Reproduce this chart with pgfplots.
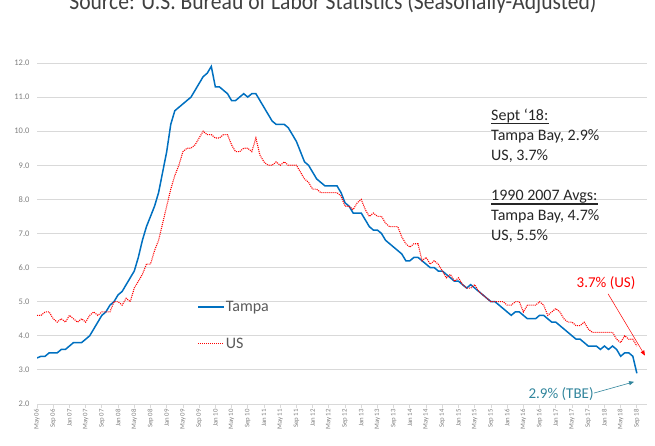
\documentclass[border=0pt]{standalone}
\usepackage{pgfplots}
\pgfplotsset{compat=1.18}
\usepackage{pgfplotstable}
\usepackage{fontspec}
\setmainfont{Carlito}
\usetikzlibrary{arrows.meta}
\definecolor{tblue}{HTML}{0070C0}
\definecolor{usred}{HTML}{FF0000}
\definecolor{tealc}{HTML}{31859C}
\definecolor{gridc}{HTML}{D9D9D9}
\definecolor{ticklab}{HTML}{7F7F7F}
\definecolor{legtxt}{HTML}{595959}
\definecolor{boxtxt}{HTML}{262626}
\definecolor{titlec}{HTML}{404040}

\pgfplotstableread{
m tampa us
0 3.35 4.6
1 3.4 4.6
2 3.4 4.7
3 3.5 4.7
4 3.5 4.5
5 3.5 4.4
6 3.6 4.5
7 3.6 4.4
8 3.7 4.6
9 3.8 4.5
10 3.8 4.4
11 3.8 4.5
12 3.9 4.4
13 4.0 4.6
14 4.2 4.7
15 4.4 4.6
16 4.6 4.7
17 4.7 4.7
18 4.9 4.7
19 5.0 5.0
20 5.2 5.0
21 5.3 4.9
22 5.5 5.1
23 5.7 5.0
24 5.9 5.4
25 6.3 5.6
26 6.8 5.8
27 7.2 6.1
28 7.5 6.1
29 7.8 6.5
30 8.2 6.8
31 8.8 7.3
32 9.4 7.8
33 10.2 8.3
34 10.6 8.7
35 10.7 9.0
36 10.8 9.4
37 10.9 9.5
38 11.0 9.5
39 11.2 9.6
40 11.4 9.8
41 11.6 10.0
42 11.7 9.9
43 11.9 9.9
44 11.3 9.8
45 11.3 9.8
46 11.2 9.9
47 11.1 9.9
48 10.9 9.6
49 10.9 9.4
50 11.0 9.4
51 11.1 9.5
52 11.0 9.5
53 11.1 9.4
54 11.1 9.8
55 10.9 9.3
56 10.7 9.1
57 10.5 9.0
58 10.3 9.0
59 10.2 9.1
60 10.2 9.0
61 10.2 9.1
62 10.1 9.0
63 9.9 9.0
64 9.7 9.0
65 9.4 8.8
66 9.1 8.6
67 9.0 8.5
68 8.8 8.3
69 8.6 8.3
70 8.5 8.2
71 8.4 8.2
72 8.4 8.2
73 8.4 8.2
74 8.4 8.2
75 8.2 8.1
76 7.9 7.8
77 7.8 7.8
78 7.6 7.7
79 7.6 7.9
80 7.6 8.0
81 7.4 7.7
82 7.2 7.5
83 7.1 7.6
84 7.1 7.5
85 7.0 7.5
86 6.8 7.3
87 6.7 7.2
88 6.6 7.2
89 6.5 7.2
90 6.4 6.9
91 6.2 6.7
92 6.2 6.6
93 6.3 6.7
94 6.3 6.7
95 6.2 6.2
96 6.1 6.3
97 6.0 6.1
98 6.0 6.2
99 5.9 6.1
100 5.9 5.9
101 5.8 5.7
102 5.7 5.8
103 5.6 5.6
104 5.6 5.7
105 5.5 5.5
106 5.4 5.4
107 5.5 5.4
108 5.4 5.5
109 5.3 5.3
110 5.2 5.2
111 5.1 5.1
112 5.0 5.0
113 5.0 5.0
114 4.9 5.0
115 4.8 5.0
116 4.7 4.9
117 4.6 4.9
118 4.7 5.0
119 4.7 5.0
120 4.6 4.7
121 4.5 4.9
122 4.5 4.9
123 4.5 4.9
124 4.6 5.0
125 4.6 4.9
126 4.5 4.6
127 4.4 4.7
128 4.4 4.8
129 4.3 4.7
130 4.2 4.5
131 4.1 4.4
132 4.0 4.4
133 3.9 4.3
134 3.9 4.3
135 3.8 4.4
136 3.7 4.2
137 3.7 4.1
138 3.7 4.1
139 3.6 4.1
140 3.7 4.1
141 3.6 4.1
142 3.7 4.1
143 3.6 3.9
144 3.4 3.8
145 3.5 4.0
146 3.5 3.9
147 3.4 3.9
148 2.9 3.7
}\datatable

\begin{document}
\begin{tikzpicture}[x=1pt,y=1pt]
\path[use as bounding box] (0,0) rectangle (655,446);
\node[anchor=base, text=titlec, inner sep=0pt] at (333,436)
  {\scalebox{0.9}[1]{\fontsize{24}{28}\selectfont Source: U.S. Bureau of Labor Statistics (Seasonally-Adjusted)}};
\begin{axis}[
  at={(37pt,42pt)}, anchor=south west,
  scale only axis, width=610pt, height=341pt,
  xmin=0, xmax=150.5, ymin=2, ymax=12,
  axis x line*=bottom, axis y line*=left,
  y axis line style={draw=none},
  x axis line style={draw=gridc, line width=0.8pt, -},
  /pgf/number format/assume math mode=true,
  ytick={2,3,...,12},
  yticklabel={\pgfmathprintnumber[fixed,fixed zerofill,precision=1]{\tick}},
  yticklabel style={font=\fontsize{8.5}{10}\selectfont, text=ticklab},
  ytick style={draw=none},
  ymajorgrids, grid style={draw=gridc, line width=0.8pt},
  xtick={0,4,...,148},
  xticklabels={May 06,Sep 06,Jan 07,May 07,Sep 07,Jan 08,May 08,Sep 08,Jan 09,May 09,Sep 09,Jan 10,May 10,Sep 10,Jan 11,May 11,Sep 11,Jan 12,May 12,Sep 12,Jan 13,May 13,Sep 13,Jan 14,May 14,Sep 14,Jan 15,May 15,Sep 15,Jan 16,May 16,Sep 16,Jan 17,May 17,Sep 17,Jan 18,May 18,Sep 18},
  xticklabel style={rotate=90, anchor=east, font=\fontsize{6.8}{8}\selectfont, text=ticklab, inner sep=1pt},
  xtick style={draw=gridc, line width=0.8pt},
  tick align=outside, major tick length=4pt,
  legend cell align=left,
  legend image code/.code={\draw[#1] (0pt,0pt) -- (26pt,0pt);},
  legend style={at={(axis cs:39.5,5.05)}, anchor=north west, draw=none, fill=none,
    font=\fontsize{16}{19}\selectfont, text=legtxt, row sep=23pt, inner sep=0pt,
    nodes={inner sep=1pt}},
]
\addplot[tblue, line width=1.5pt] table[x=m,y=tampa]{\datatable};
\addplot[usred, line width=1.1pt, dash pattern=on 1pt off 1pt] table[x=m,y=us]{\datatable};
\legend{Tampa,US}
\node[text=usred, font=\fontsize{15}{18}\selectfont, anchor=center] at (axis cs:140.4,5.55) {3.7\% (US)};
\draw[usred, line width=0.5pt, -{Triangle[length=5pt,width=4pt]}] (axis cs:140.9,5.23) -- (axis cs:150,3.42);
\node[text=tealc, font=\fontsize{15}{18}\selectfont, anchor=center] at (axis cs:129.3,2.29) {2.9\% (TBE)};
\draw[tealc, line width=0.6pt, -{Triangle[length=5pt,width=4pt]}] (axis cs:137.4,2.32) -- (axis cs:147.3,2.65);
\end{axis}
\begin{scope}[every node/.style={anchor=base west, inner sep=0pt, text=boxtxt, font=\fontsize{16}{19}\selectfont}]
\node (s1) at (491,325) {Sept ‘18:};
\draw[boxtxt, line width=1.5pt] ([yshift=-2.5pt]s1.base west) -- ([yshift=-2.5pt]s1.base east);
\node at (491,305) {Tampa Bay, 2.9\%};
\node at (491,285) {US, 3.7\%};
\node (s2) at (491,245) {1990 2007 Avgs:};
\draw[boxtxt, line width=1.5pt] ([yshift=-3pt]s2.base west) -- ([yshift=-3pt]s2.base east);
\node at (491,225) {Tampa Bay, 4.7\%};
\node at (491,205) {US, 5.5\%};
\end{scope}
\end{tikzpicture}
\end{document}
